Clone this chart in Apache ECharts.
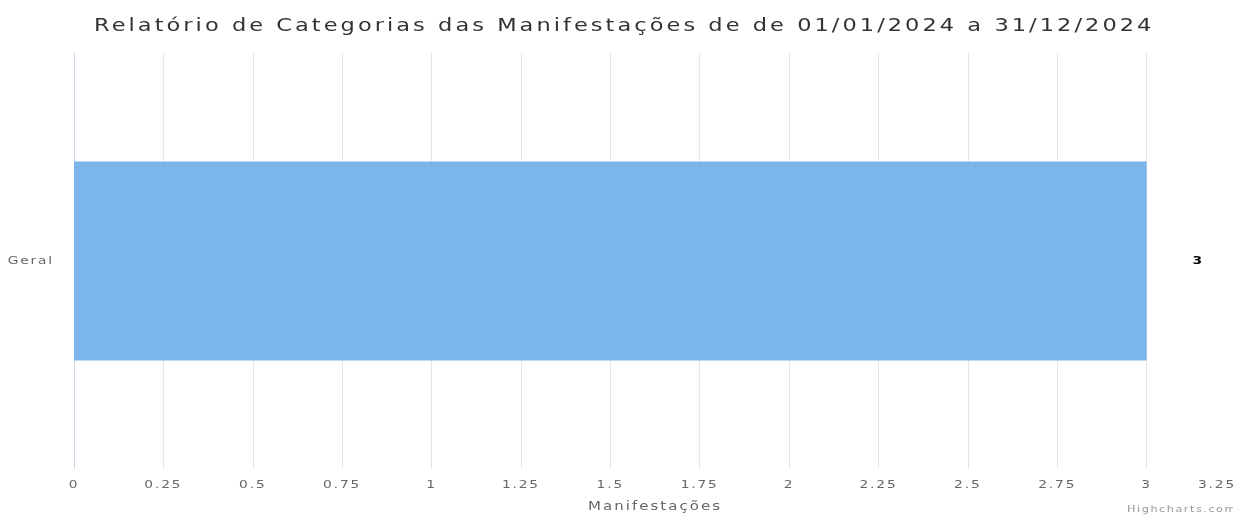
<!DOCTYPE html>
<html>
<head>
<meta charset="utf-8">
<script src="https://cdn.jsdelivr.net/npm/echarts@6/dist/echarts.min.js"></script>
<style>html,body{margin:0;padding:0;background:#fff;overflow:hidden}#c{width:1233px;height:517px}</style>
</head>
<body>
<div id="c"></div>
<script>
const categories = ['Geral'];
const values = [3];
const titleText = 'Relatório de Categorias das Manifestações de de 01/01/2024 a 31/12/2024';
const axisName = 'Manifestações';
const creditsText = 'Highcharts.com';

// The reference's text is horizontally widened and slightly letter-spaced; emulate on the canvas.
(function () {
  const proto = CanvasRenderingContext2D.prototype;
  const S = 1.25;
  const hasLS = 'letterSpacing' in proto;
  const spacing = function (ctx) {
    const m = /(\d+(?:\.\d+)?)px/.exec(ctx.font);
    return m ? (parseFloat(m[1]) * 0.135).toFixed(2) + 'px' : '0px';
  };
  ['fillText', 'strokeText'].forEach(function (fn) {
    const orig = proto[fn];
    proto[fn] = function (t, x, y) {
      if (hasLS) this.letterSpacing = spacing(this);
      this.save();
      this.translate(x, y);
      this.scale(S, 1);
      orig.call(this, t, 0, 0);
      this.restore();
    };
  });
  const origMeasure = proto.measureText;
  proto.measureText = function (t) {
    if (hasLS) this.letterSpacing = spacing(this);
    const m = origMeasure.call(this, t);
    return {
      width: m.width * S,
      actualBoundingBoxLeft: m.actualBoundingBoxLeft * S,
      actualBoundingBoxRight: m.actualBoundingBoxRight * S,
      actualBoundingBoxAscent: m.actualBoundingBoxAscent,
      actualBoundingBoxDescent: m.actualBoundingBoxDescent,
      fontBoundingBoxAscent: m.fontBoundingBoxAscent,
      fontBoundingBoxDescent: m.fontBoundingBoxDescent
    };
  };
})();

const FONT = 'DejaVu Sans';
const chart = echarts.init(document.getElementById('c'));
chart.setOption({
  animation: false,
  title: {
    text: titleText,
    left: 89,
    top: 9,
    textStyle: { fontFamily: FONT, fontSize: 18, fontWeight: 'normal', color: '#333' }
  },
  grid: { left: 74, right: -3, top: 53, bottom: 48, containLabel: false, outerBoundsMode: 'none' },
  xAxis: {
    type: 'value',
    min: 0, max: 3.25, interval: 0.25,
    name: axisName,
    nameLocation: 'middle',
    nameGap: 29,
    nameTextStyle: { fontFamily: FONT, fontSize: 12, color: '#666' },
    axisLine: { show: false },
    axisTick: { show: false },
    axisLabel: { fontFamily: FONT, fontSize: 11, color: '#666', margin: 8, showMaxLabel: true, alignMaxLabel: 'right' },
    splitLine: { show: true, lineStyle: { color: '#e6e6e6', width: 1 } }
  },
  yAxis: {
    type: 'category',
    data: categories,
    axisLine: { show: true, lineStyle: { color: '#ccd6eb', width: 1 } },
    axisTick: { show: false },
    axisLabel: { fontFamily: FONT, fontSize: 11, color: '#666', margin: 20 },
    splitLine: { show: false }
  },
  series: [{
    type: 'bar',
    data: values,
    barWidth: '47.8%',
    itemStyle: { color: '#7cb5ec' },
    label: {
      show: true, position: 'right', distance: 46,
      fontFamily: FONT, fontSize: 11, fontWeight: 'bold', color: '#000',
      textBorderColor: '#fff', textBorderWidth: 2
    }
  }],
  graphic: [{
    type: 'text', right: -4, bottom: 1,
    style: { text: creditsText, fontFamily: FONT, fontSize: 9, fill: '#999' }
  }]
});
</script>
</body>
</html>
